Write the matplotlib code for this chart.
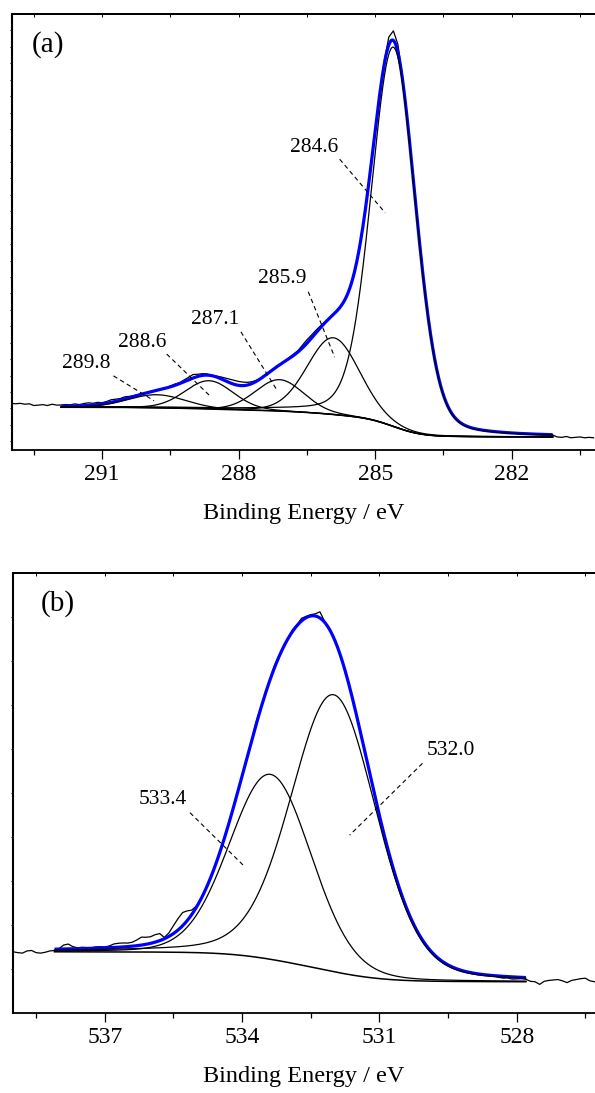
import numpy as np
import matplotlib
matplotlib.use("Agg")
import matplotlib.pyplot as plt

plt.rcParams['font.family'] = ['Liberation Serif', 'DejaVu Serif']

# ---------------- panel (a): C 1s ----------------
a_centers = [289.8, 288.65, 287.1, 285.92, 284.6]
a_heights = [3.0, 6.5, 7.2, 17.6, 87.0]
a_fwhm = [1.5, 1.25, 1.25, 1.35, 1.15]
a_lorentz = [0.10, 0.10, 0.10, 0.10, 0.20]
a_labels = ['289.8', '288.6', '287.1', '285.9', '284.6']
a_fit_range = [291.9, 281.1]
a_bg_ends = [9.8, 3.0]
a_raw_left = [10.7, 10.6, 10.7, 10.5, 10.6, 10.2, 10.3, 10.4, 10.2, 10.5, 10.3]
a_raw_resid = [0.3, 0.4, 0.3,
               0.5, 0.3, 0.5, 0.6, 0.4, 0.5, 0.3, 0.4, 0.6, 0.5, 0.4, 0.5, 0.3,
               0.2, 0.1, 0.0, 0.0, 0.0,
               0.0, 0.1, 0.0, 0.2, 0.3, 0.2, 0.4,
               0.6, 0.8, 0.5, 0.4, 0.3,
               0.1, 0.2, 0.4, 0.6,
               0.8, 0.9, 0.9, 0.8, 0.6,
               0.4, 0.2, 0.0, 0.0,
               0.0, 0.1, 0.0, 0.0, 0.2, 0.3,
               0.3, 0.6, 0.8, 0.7, 0.6, 0.4, 0.2, 0.0,
               0.0, 0.0, 0.0, 0.0, 0.0, 0.0, 0.0, 0.0, 0.0, 0.0, 0.0, 0.7,
               1.8, 2.2, 1.8, 0.6,
               0.0, 0.0, 0.0, 0.0, 0.0, 0.0, 0.0, 0.0, 0.0, 0.0, 0.0,
               0.0, 0.0, 0.0, 0.0, 0.0, 0.0, 0.0, 0.0, 0.0, 0.0, 0.0,
               0.0, 0.0, 0.0, 0.0, 0.0, 0.0, -0.1, -0.1, -0.1, -0.1, -0.1]
a_raw_right = [3.0, 2.9, 3.1, 2.8, 2.9, 3.0, 2.8, 2.9, 2.8]
a_xticks = [291, 288, 285, 282]
a_xminor = [292.5, 289.5, 286.5, 283.5, 280.5]

# ---------------- panel (b): O 1s ----------------
b_centers = [533.38, 532.0]
b_heights = [42.0, 62.9]
b_fwhm = [2.1, 2.2]
b_lorentz = [0.1, 0.2]
b_labels = ['533.4', '532.0']
b_fit_range = [538.1, 527.8]
b_bg_ends = [13.9, 7.1]
b_raw_left = [13.9, 13.7, 13.6, 14.1, 14.2, 13.7, 13.6, 13.8, 14.1]
b_raw_resid = [-0.3, 0.1, 0.9, 1.1, 0.5, 0.2, 0.3, 0.2, 0.1, 0.3, 0.3, 0.2,
               0.4, 0.8, 0.9, 0.9, 0.8, 0.9, 1.3, 1.8, 1.6, 1.5, 1.7, 1.6,
               0.3, 0.8, 1.8, 2.6, 3.0, 2.2, 1.0, 0.3,
               0.0, 0.0, 0.0, 0.0, 0.0, 0.0, 0.0, 0.0, 0.0, 0.0, 0.0, 0.0,
               0.6, 0.3, 0.0, 0.0, 0.5, 0.2, 0.0, 0.0, 0.4, 0.2, 0.6, 0.3,
               0.3, 0.5, 1.4, 0.2,
               0.0, 0.0, 0.0, 0.0, 0.0, 0.0, 0.0, 0.0, 0.0, 0.0, 0.0, 0.0,
               0.0, 0.0, 0.0, 0.0, 0.0, 0.0, 0.0, 0.0, 0.0, 0.0, 0.0, 0.0,
               0.0, 0.0, 0.0, 0.0, 0.0, 0.0, 0.0, 0.0, 0.0, 0.0, 0.0, 0.0, 0.0,
               -0.3, -0.4, -0.3, -0.5, -0.4, -0.3, -0.4]
b_raw_right = [7.2, 7.1, 6.5, 7.2, 7.4, 7.5, 7.6, 7.3, 6.9, 7.4, 7.6, 7.8, 7.9, 7.3, 7.1]
b_xticks = [537, 534, 531, 528]
b_xminor = [538.5, 535.5, 532.5, 529.5, 526.5]

# ---------------- layout (not data) ----------------
W, H = 595, 1093
DPI = 100
a_box = [12, 14, 595, 450]      # left, top, right, bottom in px
b_box = [13.3, 572.7, 595, 1013]
a_xlim = (292.98, 280.17)
b_xlim = (539.0, 526.29)
a_text_pos = [(291.34, 19.9), (290.13, 24.7), (288.51, 29.9), (287.05, 39.3), (286.34, 69.3)]
a_lead = [((290.75, 17.0), (289.86, 11.3)), ((289.58, 22.0), (288.61, 12.2)),
          ((287.95, 27.1), (287.15, 13.6)), ((286.47, 36.3), (285.89, 21.3)),
          ((285.78, 66.7), (284.78, 54.4))]
b_text_pos = [(535.73, 48.4), (529.45, 59.6)]
b_lead = [((535.14, 45.5), (533.94, 33.2)), ((530.06, 56.7), (531.65, 40.4))]


def gl(E, c, h, w, m):
    x = (E - c) / w
    return h * ((1 - m) * np.exp(-4 * np.log(2) * x ** 2) + m / (1 + 4 * x ** 2))


def build(centers, heights, fwhm, lor, fit_range, bg_ends, raw_left, raw_resid, raw_right):
    E = np.linspace(fit_range[0], fit_range[1], 1500)
    comps = [gl(E, c, h, w, m) for c, h, w, m in zip(centers, heights, fwhm, lor)]
    P = np.sum(comps, axis=0)
    dE = abs(E[1] - E[0])
    cum = np.cumsum((P * dE)[::-1])[::-1]
    cum = cum - cum[-1]
    bg = bg_ends[1] + (bg_ends[0] - bg_ends[1]) * cum / cum[0]
    env = bg + P
    step = 0.1
    E_left = fit_range[0] + step * np.arange(len(raw_left), 0, -1)
    E_fit = fit_range[0] - step * np.arange(len(raw_resid))
    E_right = E_fit[-1] - step * np.arange(1, len(raw_right) + 1)
    env_grid = np.interp(E_fit, E[::-1], env[::-1])
    raw_E = np.concatenate([E_left, E_fit, E_right])
    raw_I = np.concatenate([raw_left, env_grid + np.array(raw_resid), raw_right])
    return E, comps, bg, env, raw_E, raw_I


def make_axes(fig, box):
    l, t, r, b = box
    return fig.add_axes([l / W, 1 - b / H, (r - l) / W, (b - t) / H])


def style_axes(ax, xlim, majors, minors, yticks):
    ax.set_xlim(*xlim)
    ax.set_ylim(0, 100)
    ax.set_xticks(majors)
    ax.set_xticks(minors, minor=True)
    ax.set_yticks(yticks)
    ax.set_yticklabels([])
    ax.tick_params(axis='x', which='major', direction='out', length=6.5, width=0.9,
                   labelsize=17, pad=3.5)
    ax.tick_params(axis='x', which='minor', direction='out', length=3.6, width=0.9)
    ax.tick_params(axis='y', which='both', direction='out', length=1.8, width=0.7)
    ax.tick_params(axis='y', which='minor', left=False)
    for s in ['left', 'bottom', 'top']:
        ax.spines[s].set_linewidth(1.3)
    ax.spines['left'].set_linewidth(1.5)
    ax.spines['right'].set_visible(False)
    sec = ax.secondary_xaxis('top')
    sec.set_xticks(list(majors) + list(minors))
    sec.set_xticklabels([])
    sec.tick_params(direction='in', length=2.0, width=0.7)
    sec.spines['top'].set_linewidth(1.3)
    ax.set_xlabel('Binding Energy / eV', fontsize=17.5, labelpad=13)


def draw(ax, model, labels, text_pos, leads, tag, tag_pos):
    E, comps, bg, env, raw_E, raw_I = model
    ax.plot(raw_E, raw_I, color='black', lw=0.9, zorder=2)
    ax.plot(E, env, color='#0000FF', lw=2.3, zorder=3, solid_capstyle='butt')
    for c in comps:
        ax.plot(E, c + bg, color='black', lw=0.9, zorder=4)
    ax.plot(E, bg, color='black', lw=1.1, zorder=4)
    for lab, (tx, ty), (p0, p1) in zip(labels, text_pos, leads):
        ax.text(tx, ty, lab, fontsize=15.5, ha='center', va='center', zorder=5)
        ax.plot([p0[0], p1[0]], [p0[1], p1[1]], color='black', lw=0.8,
                linestyle=(0, (4, 3)), zorder=5)
    ax.text(tag_pos[0], tag_pos[1], tag, fontsize=21, ha='center', va='center')


fig = plt.figure(figsize=(W / DPI, H / DPI), dpi=DPI)

ax_a = make_axes(fig, a_box)
model_a = build(a_centers, a_heights, a_fwhm, a_lorentz, a_fit_range, a_bg_ends,
                a_raw_left, a_raw_resid, a_raw_right)
draw(ax_a, model_a, a_labels, a_text_pos, a_lead, '(a)', (292.18, 93.1))
style_axes(ax_a, a_xlim, a_xticks, a_xminor, np.arange(100 - 3.77, 0, -3.77))

ax_b = make_axes(fig, b_box)
model_b = build(b_centers, b_heights, b_fwhm, b_lorentz, b_fit_range, b_bg_ends,
                b_raw_left, b_raw_resid, b_raw_right)
draw(ax_b, model_b, b_labels, b_text_pos, b_lead, '(b)', (538.03, 93.1))
style_axes(ax_b, b_xlim, b_xticks, b_xminor, np.arange(10, 100, 10))

fig.savefig('out.png', dpi=DPI)
